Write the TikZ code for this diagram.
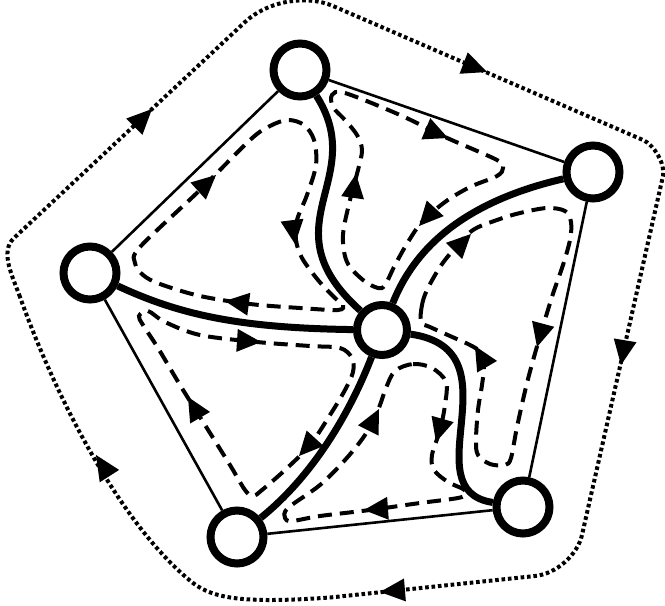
\documentclass[tikz,border=0pt]{standalone}
\usetikzlibrary{calc}
\tikzset{
  vtx/.style={circle, draw, line width=8pt, minimum size=53pt, inner sep=0pt, fill=white},
  spoke/.style={line width=7pt},
  edge/.style={line width=2.6pt},
  loopline/.style={line width=4pt, dash pattern=on 14pt off 8pt},
  outerloop/.style={line width=4pt, dash pattern=on 3.6pt off 2.8pt},
}
\newcommand\atip[3][24pt]{%
  \coordinate (ab) at ($(#2)!#1!(#3)$);
  \fill (#2) -- ($(ab)!11.5pt!90:(#2)$) -- ($(ab)!11.5pt!-90:(#2)$) -- cycle;}
\begin{document}
\begin{tikzpicture}[x=1pt,y=-1pt]
\useasboundingbox (0,0) rectangle (665,606);
% nodes
\node[vtx] (T) at (300,70) {};
\node[vtx] (R) at (593,172) {};
\node[vtx] (L) at (90,273) {};
\node[vtx] (BL) at (237,537) {};
\node[vtx] (BR) at (523,507) {};
\node[vtx, minimum size=50pt] (C) at (382,330) {};
% outer edges
\draw[edge] (T) -- (R);
\draw[edge] (R) -- (BR);
\draw[edge] (BR) -- (BL);
\draw[edge] (BL) -- (L);
\draw[edge] (L) -- (T);
% spokes
\draw[spoke] (T) .. controls (370,180) and (265,225) .. (C);
\draw[spoke] (C) .. controls (410,260) and (450,205) .. (R);
\draw[spoke] (C) .. controls (520,350) and (410,490) .. (BR);
\draw[spoke] (L) .. controls (180,315) and (240,328) .. (C);
\draw[spoke] (C) .. controls (355,400) and (320,470) .. (BL);
% dashed loops
\draw[loopline] plot[smooth cycle, tension=0.55] coordinates {
 (135,263) (140,247) (200,190) (250,140) (270,126) (288,120) (304,125) (314,140) (316,165)
 (307,195) (297,220) (296,240) (302,258) (318,280) (335,298) (343,305) (338,310)
 (300,308) (250,304) (200,296) (160,284) (143,275)};
\draw[loopline] plot[smooth cycle, tension=0.55] coordinates {
 (332,95) (345,93) (400,115) (445,137) (497,160) (503,168) (497,176) (470,187) (445,202)
 (422,222) (408,242) (395,265) (385,285) (378,288) (363,280) (347,262) (343,235) (350,200)
 (358,170) (362,150) (357,135) (345,120) (333,107)};
\draw[loopline] plot[smooth cycle, tension=0.55] coordinates {
 (421,322) (422,305) (427,290) (440,267) (455,248) (473,230) (497,220) (520,213) (547,208)
 (565,211) (571,222) (570,240) (563,265) (556,285) (551,300) (538,343) (527,383) (517,427)
 (511,458) (505,465) (490,464) (478,455) (476,440) (478,410) (482,385) (484,365) (480,352)
 (470,345) (450,336) (430,327)};
\draw[loopline] plot[smooth cycle, tension=0.55] coordinates {
 (395,371) (413,364) (432,368) (446,382) (445,405) (440,430) (432,455) (434,470) (448,482)
 (463,489) (466,494) (458,498) (420,503) (370,510) (320,516) (292,521) (285,518) (288,508)
 (320,485) (345,460) (365,435) (378,410) (386,388)};
\draw[loopline] plot[smooth cycle, tension=0.55] coordinates {
 (139,316) (148,311) (165,322) (200,335) (257,342) (310,346) (340,348) (352,358) (353,372)
 (345,390) (330,415) (310,445) (285,470) (262,490) (253,496) (245,490) (230,465) (205,425)
 (180,385) (158,348) (143,325)};
% arrows on dashed loops
\atip{216,175}{206,184}
\atip{295,244}{293,228}
\atip{225,301}{240,303}
\atip{448,138}{436,133}
\atip{419,226}{430,214}
\atip{356,174}{354,188}
\atip{471,234}{460,245}
\atip{537,347}{541,332}
\atip{475,346}{482,358}
\atip{436,442}{440,428}
\atip{364,510}{378,509}
\atip{379,409}{373,421}
\atip{261,342}{246,341}
\atip{299,456}{309,445}
\atip{188,397}{195,409}
% outer dotted loop
\draw[outerloop] (20,297) .. controls (12.6,276.3) and (-0.6,251.6) .. (14,238)
  -- (245,22) .. controls (267,1.6) and (305.4,-5.9) .. (333,6)
  -- (643,140) .. controls (654,144.7) and (665.6,164.3) .. (663,176)
  -- (582,535) .. controls (577.6,554.5) and (556.9,573.7) .. (535,576)
  -- (330,597.5) .. controls (250,603) and (215,600) .. (193,583)
  .. controls (120,525) and (55,395) .. (20,297);
\atip[25pt]{152,109}{143,118}
\atip[25pt]{487,72}{474,67}
\atip[25pt]{621,365}{623,353}
\atip[25pt]{380,592}{392,591}
\atip[25pt]{96,455}{103,466}
\end{tikzpicture}
\end{document}
